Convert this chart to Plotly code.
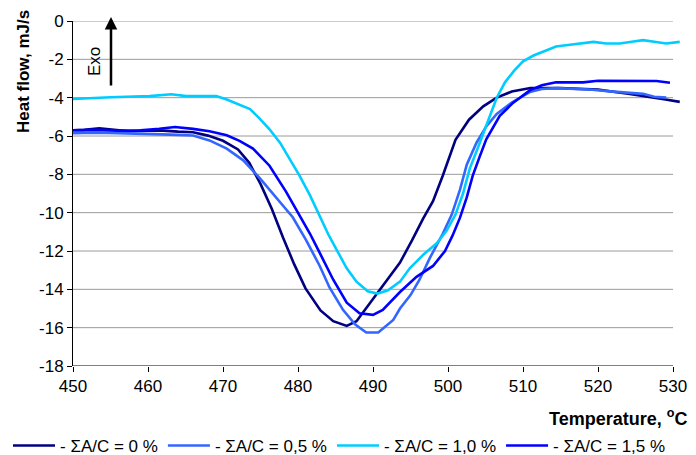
import plotly.graph_objects as go

# ---- data ----
t_0 = [450, 451.5, 453.5, 455.5, 457.5, 460, 462, 464, 466, 468, 470, 472, 473.5, 475, 476.5,
       478, 479.5, 481, 483, 484.7, 486.5, 487.8, 489.6, 491.4, 493.6, 495.2, 496.7, 498, 499.3,
       501, 502.8, 504.7, 506.5, 508.5, 511, 515, 520, 524, 527, 529, 530.9]
v_0 = [-5.7, -5.68, -5.6, -5.68, -5.75, -5.72, -5.72, -5.77, -5.8, -5.98, -6.25, -6.7, -7.4, -8.5,
       -9.8, -11.3, -12.7, -13.95, -15.1, -15.66, -15.91, -15.66, -14.73, -13.8, -12.6, -11.45,
       -10.3, -9.4, -8.07, -6.2, -5.15, -4.45, -4.0, -3.68, -3.5, -3.5, -3.58, -3.8, -3.96, -4.1, -4.22]

t_05 = [450, 453, 456, 460, 463, 466, 468.2, 470.5, 472.7, 474.9, 477.1, 479.3, 481.1, 482.9,
        484.2, 486, 487.6, 489.1, 490.7, 491.8, 492.7, 493.6, 495, 496.2, 497.6, 499.3, 500.5,
        501.6, 502.5, 503.8, 505.1, 506.5, 508.5, 510.9, 512.5, 514.4, 518.9, 521.6, 524, 526,
        527.5, 529.1]
v_05 = [-5.85, -5.83, -5.85, -5.88, -5.93, -5.97, -6.23, -6.66, -7.27, -8.2, -9.24, -10.24, -11.45,
        -12.78, -13.9, -15.07, -15.83, -16.25, -16.25, -15.9, -15.6, -15.0, -14.3, -13.5, -12.35,
        -11.1, -10.1, -8.8, -7.5, -6.35, -5.5, -4.85, -4.25, -3.71, -3.55, -3.5, -3.57, -3.67,
        -3.72, -3.8, -3.95, -4.0]

t_10 = [450, 452.7, 455, 457.1, 460.2, 463.1, 465.1, 467, 469.1, 470.5, 472, 473.6, 474.8, 476.2,
        477.6, 478.9, 480.2, 481.6, 482.9, 484, 485.1, 486.5, 487.8, 489.3, 490.6, 492, 493.6,
        494.9, 496.7, 498.5, 499.8, 501, 502, 502.9, 504, 504.7, 505.6, 506.5, 507.6, 508.8, 510,
        511.4, 513, 514.4, 516, 517.6, 519.4, 521.1, 522.9, 524.5, 526, 527.5, 529.1, 530.9]
v_10 = [-4.07, -4.0, -3.98, -3.95, -3.92, -3.82, -3.92, -3.92, -3.92, -4.1, -4.35, -4.6, -5.05,
        -5.65, -6.35, -7.2, -8.07, -9.1, -10.2, -11.1, -11.9, -12.9, -13.6, -14.1, -14.22, -14.05,
        -13.6, -12.9, -12.2, -11.6, -10.95, -10.1, -9.0, -7.7, -6.6, -5.85, -4.9, -4.0, -3.2, -2.6,
        -2.1, -1.8, -1.55, -1.33, -1.25, -1.18, -1.09, -1.17, -1.17, -1.08, -1.0, -1.08, -1.17, -1.09]

t_15 = [450, 453, 456, 459, 461.5, 463.6, 466, 468.2, 470.5, 472.2, 474, 476.2, 478.4, 480.2,
        481.6, 482.9, 484.7, 486.5, 488.2, 490, 491.3, 493.6, 495.8, 498, 499.6, 500.6, 501.6,
        502.5, 503.3, 504.2, 505.1, 506.9, 508.7, 510.9, 512.5, 514.4, 518, 520, 524, 527.8, 529.6]
v_15 = [-5.7, -5.68, -5.72, -5.7, -5.62, -5.53, -5.63, -5.75, -5.96, -6.25, -6.66, -7.55, -8.9,
        -10.1, -11.1, -12.1, -13.5, -14.7, -15.25, -15.33, -15.07, -14.14, -13.35, -12.78, -12.0,
        -11.2, -10.26, -9.2, -8.07, -7.1, -6.17, -4.95, -4.26, -3.62, -3.35, -3.2, -3.2, -3.12,
        -3.12, -3.13, -3.22]

series_names = ["- ΣA/C = 0 %", "- ΣA/C = 0,5 %", "- ΣA/C = 1,0 %", "- ΣA/C = 1,5 %"]
series_colors = ["#000080", "#3366FF", "#00CCFF", "#0000FF"]

x_ticks = [450, 460, 470, 480, 490, 500, 510, 520, 530]
y_ticks = [0, -2, -4, -6, -8, -10, -12, -14, -16, -18]

x_title = "Temperature, <sup>o</sup>C"
y_title = "Heat flow, mJ/s"
exo_label = "Exo"

# ---- layout geometry ----
W, H = 696, 455
ML, MT, MB, MR = 73, 21, 89, 15
PW = W - ML - MR
PH = H - MT - MB
XMAX = 450 + PW / 7.5
FS = 17

def px(xp):
    return (xp - ML) / PW

def py(yp):
    return (H - MB - yp) / PH

FONT = "Liberation Sans, Arial, sans-serif"

fig = go.Figure()
for t, v, n, c in zip([t_0, t_05, t_10, t_15], [v_0, v_05, v_10, v_15], series_names, series_colors):
    fig.add_trace(go.Scatter(x=t, y=v, mode="lines", name=n,
                             line=dict(color=c, width=2.6)))

shapes = []
for yv in y_ticks[:-1]:
    shapes.append(dict(type="line", xref="x", yref="y", x0=450, x1=530, y0=yv, y1=yv,
                       line=dict(color="#9a9a9a", width=1), layer="below"))
shapes.append(dict(type="line", xref="x", yref="y", x0=450, x1=530, y0=-18, y1=-18,
                   line=dict(color="#000000", width=1), layer="below"))

UNIT = PH / 18
annotations = [
    dict(text=y_title, xref="paper", yref="paper", x=px(23), y=py(72), textangle=-90,
         showarrow=False, xanchor="center", yanchor="middle",
         font=dict(family=FONT, size=FS, color="black", weight="bold")),
    dict(text=x_title, xref="paper", yref="paper", x=px(689), y=py(417),
         showarrow=False, xanchor="right", yanchor="middle",
         font=dict(family=FONT, size=18, color="black", weight="bold")),
    dict(text=exo_label, xref="x", yref="y", x=450 + (94 - ML) / 7.5, y=-(62 - MT) / UNIT,
         textangle=-90, showarrow=False, xanchor="center", yanchor="middle",
         font=dict(family=FONT, size=FS, color="black")),
    dict(text="", xref="x", yref="y", x=450 + (111 - ML) / 7.5, y=(MT - 17) / UNIT,
         axref="x", ayref="y", ax=450 + (111 - ML) / 7.5, ay=-(87 - MT) / UNIT,
         showarrow=True, arrowhead=2, arrowsize=1, arrowwidth=2.5, arrowcolor="black", standoff=0),
]

fig.update_layout(
    width=W, height=H,
    margin=dict(l=ML, r=MR, t=MT, b=MB, pad=0, autoexpand=False),
    paper_bgcolor="white", plot_bgcolor="white",
    font=dict(family=FONT, size=FS, color="black"),
    showlegend=True,
    legend=dict(orientation="h", xref="paper", yref="paper",
                x=px(8), xanchor="left", y=py(446), yanchor="middle",
                itemwidth=42,
                font=dict(family=FONT, size=17, color="black"), bgcolor="rgba(0,0,0,0)",
                traceorder="normal"),
    xaxis=dict(range=[450, XMAX], tickvals=x_ticks, ticktext=[str(v) for v in x_ticks],
               showgrid=False, zeroline=False, showline=False,
               ticks="outside", ticklen=5, tickcolor="black", tickwidth=1,
               tickfont=dict(family=FONT, size=FS, color="black")),
    yaxis=dict(range=[-18, 0], tickvals=y_ticks, ticktext=[str(v) for v in y_ticks],
               showgrid=False, zeroline=False, showline=True, linecolor="black", linewidth=1,
               ticks="outside", ticklen=5, tickcolor="black", tickwidth=1,
               tickfont=dict(family=FONT, size=FS, color="black")),
    shapes=shapes,
    annotations=annotations,
)

fig.write_html("out.html", config={"displayModeBar": False},
               post_script="document.body.style.margin='0';document.body.style.overflow='hidden';")
